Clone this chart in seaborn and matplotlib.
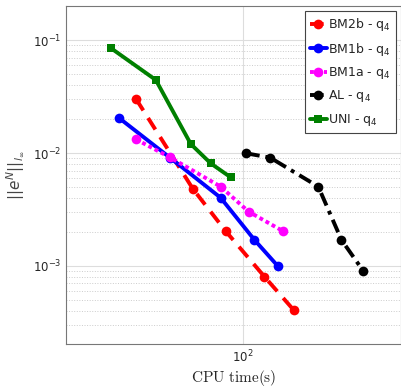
import numpy as np
import pandas as pd
import seaborn as sns
import matplotlib.pyplot as plt

# --- données ---
bm2b_t = [29.2, 56.4, 82.2, 128.8, 180.5]
bm2b_e = [0.0301, 0.0048, 0.00204, 0.000804, 0.000408]

bm1b_t = [24.1, 43.2, 77.6, 114.8, 150.2]
bm1b_e = [0.0203, 0.0091, 0.00402, 0.0017, 0.001]

bm1a_t = [29.2, 43.2, 77.6, 107.2, 159.1]
bm1a_e = [0.0132, 0.00916, 0.00504, 0.00303, 0.00204]

al_t = [104.3, 137.6, 239.9, 313.7, 402.7]
al_e = [0.00994, 0.0091, 0.00504, 0.0017, 0.000908]

uni_t = [21.9, 36.7, 55.0, 69.2, 87.1]
uni_e = [0.0845, 0.0443, 0.0120, 0.0081, 0.0061]

labels = ['BM2b - q$_4$', 'BM1b - q$_4$', 'BM1a - q$_4$', 'AL - q$_4$', 'UNI - q$_4$']

sns.set_style("white")
plt.rcParams['mathtext.fontset'] = 'dejavusans'

fig = plt.figure(figsize=(4.02, 3.88), dpi=100)
ax = fig.add_axes([66/402, 1 - 344/388, 335/402, 338/388])

series = [
    (bm2b_t, bm2b_e, 'red', (0, (3.5, 2.3)), 'o', 7),
    (bm1b_t, bm1b_e, 'blue', '-', 'o', 7),
    (bm1a_t, bm1a_e, 'magenta', (0, (1, 0.8)), 'o', 7),
    (al_t, al_e, 'black', (0, (3.5, 1.5, 1, 1.5)), 'o', 7),
    (uni_t, uni_e, 'green', '-', 's', 6),
]
for (t, e, c, ls, m, ms), lab in zip(series, labels):
    df = pd.DataFrame({'t': t, 'e': e})
    sns.lineplot(data=df, x='t', y='e', ax=ax, color=c, linestyle=ls,
                 marker=m, markersize=ms, markeredgewidth=0, linewidth=2.8,
                 label=lab, sort=False)

ax.set_xscale('log')
ax.set_yscale('log')
ax.set_xlim(13, 624)
ax.set_ylim(2.04e-4, 0.2)
ax.set_xticks([100])
ax.minorticks_on()
ax.xaxis.set_minor_locator(plt.NullLocator())

ax.grid(True, which='major', color='#dddddd', linewidth=0.8)
ax.grid(True, which='minor', axis='y', color='#cccccc', linestyle=':', linewidth=0.7)
ax.tick_params(axis='both', which='major', labelsize=8.5, direction='in', length=3, color='#666666')
ax.tick_params(axis='y', which='minor', length=0)
for s in ax.spines.values():
    s.set_color('#777777')
    s.set_linewidth(0.8)

ax.set_xlabel(r'$\mathrm{CPU\ time(s)}$', fontsize=11, labelpad=2)
ax.xaxis.label.set_math_fontfamily('cm')
ax.set_ylabel(r'$||e^N||_{l_\infty}$', fontsize=11, color='#444444')

leg = ax.legend(loc='upper right', fontsize=9, handlelength=1.4, handletextpad=0.1,
                borderaxespad=0.4, frameon=True, fancybox=False, framealpha=1,
                edgecolor='#444444', labelspacing=0.6)
leg.get_frame().set_linewidth(0.8)

fig.savefig('out.png', dpi=100)
